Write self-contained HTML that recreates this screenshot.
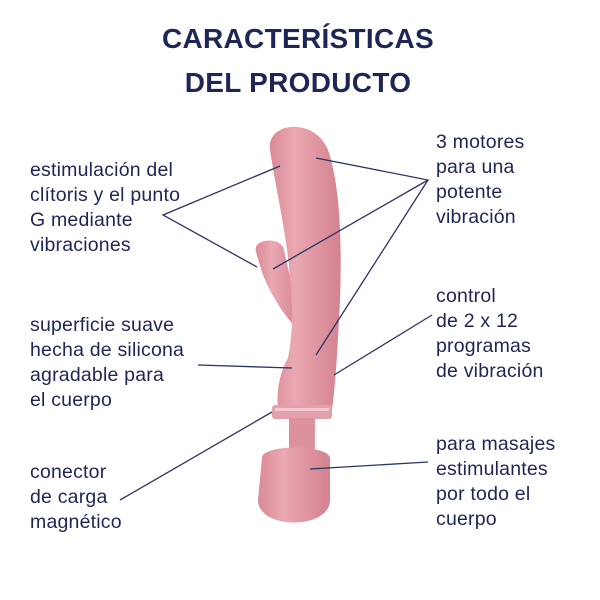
<!DOCTYPE html>
<html><head><meta charset="utf-8"><style>
html,body{margin:0;padding:0;background:#fff;}
svg{display:block}
text{font-family:"Liberation Sans",sans-serif;fill:#1e2656;}
.t{font-size:28px;font-weight:bold;letter-spacing:0.3px}
.l{font-size:19.5px;letter-spacing:0.2px}
</style></head><body>
<svg width="600" height="600" viewBox="0 0 600 600">
<defs>
<linearGradient id="g" x1="0" x2="1" y1="0" y2="0">
<stop offset="0" stop-color="#d98b97"/><stop offset="0.35" stop-color="#eaa8b2"/><stop offset="1" stop-color="#d4828f"/>
</linearGradient>
</defs>
<text class="t" x="298" y="48" text-anchor="middle">CARACTERÍSTICAS</text>
<text class="t" x="298" y="92" text-anchor="middle">DEL PRODUCTO</text>

<text class="l" x="30" y="176">estimulación del</text>
<text class="l" x="30" y="201">clítoris y el punto</text>
<text class="l" x="30" y="226">G mediante</text>
<text class="l" x="30" y="251">vibraciones</text>
<text class="l" x="30" y="331">superficie suave</text>
<text class="l" x="30" y="356">hecha de silicona</text>
<text class="l" x="30" y="381">agradable para</text>
<text class="l" x="30" y="406">el cuerpo</text>
<text class="l" x="30" y="478">conector</text>
<text class="l" x="30" y="503">de carga</text>
<text class="l" x="30" y="528">magnético</text>
<text class="l" x="436" y="148">3 motores</text>
<text class="l" x="436" y="173">para una</text>
<text class="l" x="436" y="198">potente</text>
<text class="l" x="436" y="223">vibración</text>
<text class="l" x="436" y="302">control</text>
<text class="l" x="436" y="327">de 2 x 12</text>
<text class="l" x="436" y="352">programas</text>
<text class="l" x="436" y="377">de vibración</text>
<text class="l" x="436" y="450">para masajes</text>
<text class="l" x="436" y="475">estimulantes</text>
<text class="l" x="436" y="500">por todo el</text>
<text class="l" x="436" y="525">cuerpo</text>

<g fill="url(#g)">
<path d="M256,252 C252,238 282,236 284,250 C288,268 292,290 302,305 L302,332 C290,325 270,295 262,272 Z"/>
<path d="M270,150 C266,122 314,116 328,150 C340,185 342,240 340,300 C338,340 336,380 332,410 L278,410 C276,390 280,372 288,358 C294,330 292,300 290,280 C288,240 276,190 270,150 Z"/>
<rect x="272" y="405" width="60" height="14" rx="3" fill="#e2a0aa"/>
<rect x="275" y="408" width="54" height="3" fill="#f2c7cd"/>
<rect x="289" y="418" width="26" height="32" fill="#dc919c"/>
<path d="M262,458 C262,444 328,444 330,458 L330,500 C330,530 258,530 258,500 Z"/>
</g>

<g stroke="#2b3566" stroke-width="1.3" fill="none">
<polyline points="280,166 163,215 257,267"/>
<polyline points="316,158 428,180 273,269"/>
<line x1="428" y1="180" x2="316" y2="355"/>
<line x1="198" y1="365" x2="292" y2="368"/>
<line x1="432" y1="315" x2="334" y2="375"/>
<line x1="120" y1="500" x2="272" y2="412"/>
<line x1="428" y1="462" x2="310" y2="469"/>
</g>
</svg>
</body></html>
